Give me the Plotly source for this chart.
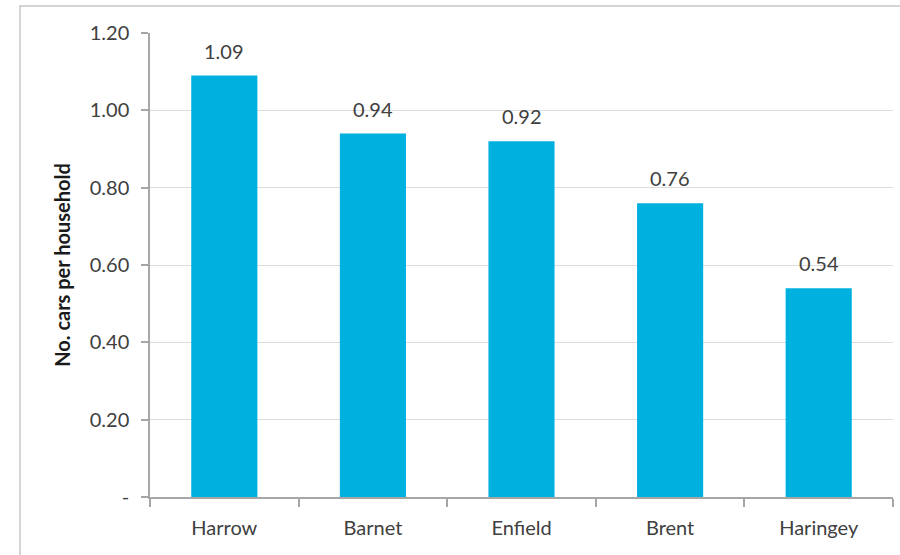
import plotly.graph_objects as go

boroughs = ["Harrow", "Barnet", "Enfield", "Brent", "Haringey"]
cars_per_household = [1.09, 0.94, 0.92, 0.76, 0.54]

y_tick_vals = [0, 0.2, 0.4, 0.6, 0.8, 1.0, 1.2]
y_tick_text = ["-", "0.20", "0.40", "0.60", "0.80", "1.00", "1.20"]

bar_color = "#00B0DF"
text_color = "#404040"
font_family = "Lato, 'Open Sans', sans-serif"

fig = go.Figure(
    go.Bar(
        x=boroughs,
        y=cars_per_household,
        marker=dict(color=bar_color, line=dict(width=0)),
        width=0.445,
        hoverinfo="x+y",
    )
)

# value labels above each bar
for b, v in zip(boroughs, cars_per_household):
    fig.add_annotation(
        x=b, y=v, text=f"{v:.2f}", showarrow=False,
        yanchor="bottom", yshift=11,
        font=dict(size=20, color=text_color, family=font_family),
    )

# light frame around the chart
fig.add_shape(
    type="rect", xref="paper", yref="paper",
    x0=-0.175, x1=1.05, y0=-0.2, y1=1.058,
    line=dict(color="#C8C8C8", width=1.5), fillcolor="rgba(0,0,0,0)",
    layer="below",
)

fig.update_layout(
    width=900, height=555,
    margin=dict(l=150, r=7, t=33, b=58),
    paper_bgcolor="white", plot_bgcolor="white",
    font=dict(family=font_family, color=text_color, size=20),
    showlegend=False,
)

fig.update_xaxes(
    type="category",
    showline=True, linecolor="#A6A6A6", linewidth=1.5,
    ticks="outside", tickson="boundaries", ticklen=8, tickcolor="#A6A6A6",
    tickwidth=1.5,
    ticklabelstandoff=12,
    tickfont=dict(size=20, color=text_color),
    showgrid=False,
)

fig.update_yaxes(
    range=[0, 1.2],
    tickvals=y_tick_vals, ticktext=y_tick_text,
    showline=True, linecolor="#A6A6A6", linewidth=1.5,
    ticks="outside", ticklen=7, tickcolor="#A6A6A6", tickwidth=1.5,
    ticklabelstandoff=8,
    showgrid=True, gridcolor="#DCDCDC", gridwidth=1,
    zeroline=False,
    tickfont=dict(size=20, color=text_color),
    title=dict(
        text="<b>No. cars per household</b>",
        font=dict(size=20, color="#1A1A1A", family=font_family),
        standoff=14,
    ),
)

fig.write_html("out.html")
